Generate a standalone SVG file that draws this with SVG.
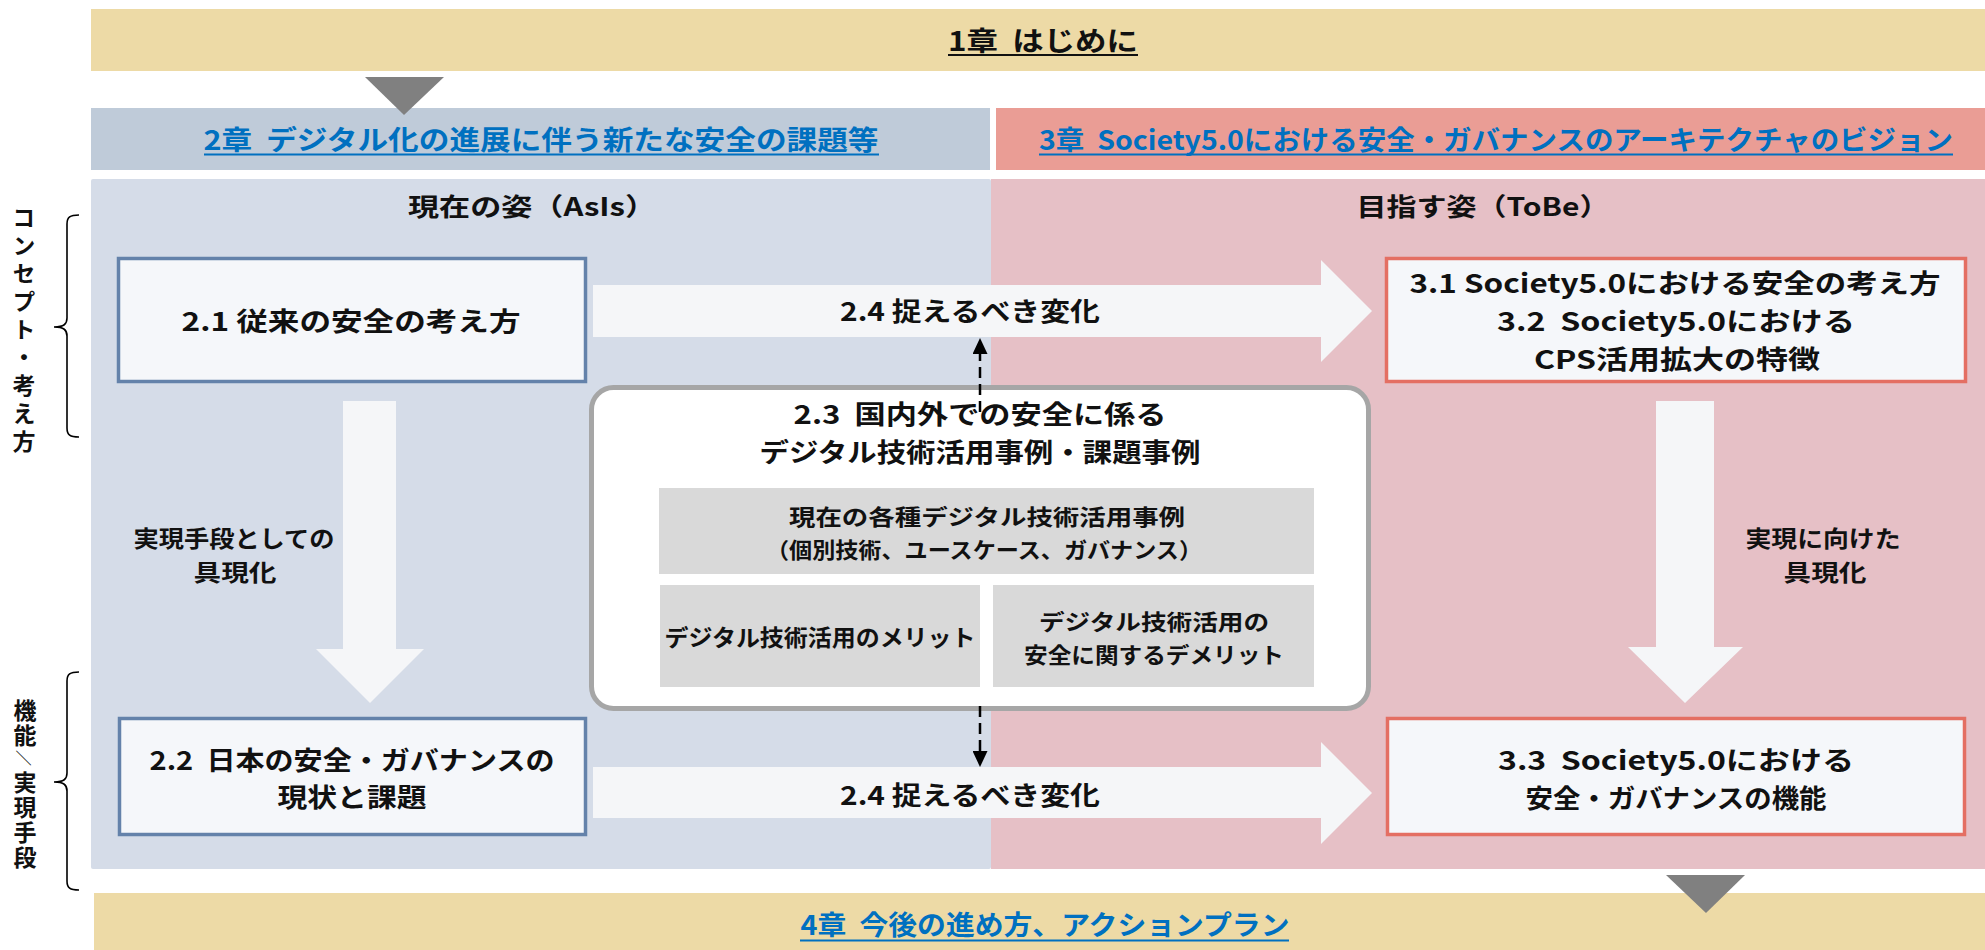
<svg xmlns="http://www.w3.org/2000/svg" width="1985" height="950" viewBox="0 0 1985 950">
<style>
.t{font-family:"Noto Sans CJK JP","Noto Sans CJK SC",sans-serif;font-weight:700;text-anchor:middle;fill:#111}
.v{font-family:"Noto Sans CJK JP","Noto Sans CJK SC",sans-serif;font-weight:700;fill:#111;font-size:23px}
.blue{fill:#0070C0}
.f27{font-size:27px}.fm{font-size:26px}.f25{font-size:25px}.f23{font-size:23px}.fs{font-size:22px}
.ul{stroke-width:2}
.box{fill:#F5F7FA;stroke-width:3.5}
.asis{stroke:#6482AA}
.tobe{stroke:#E46F63}
.blk{fill:#F5F6F8}
.grey{fill:#D9D9D9}
.tri{fill:#808080}
.dash{stroke:#000;stroke-width:2.5;stroke-dasharray:11 6;fill:none}
.brace{stroke:#000;stroke-width:1.6;fill:none}
</style>
<defs>
<marker id="ah" markerUnits="userSpaceOnUse" markerWidth="16" markerHeight="15" refX="0" refY="7.5" orient="auto" viewBox="0 0 16 15">
<path d="M0,0 L16,7.5 L0,15 z" fill="#000"/>
</marker>
</defs>
<rect width="1985" height="950" fill="#FFFFFF"/>

<!-- Chapter bars -->
<g id="ch1">
<rect x="91" y="9" width="1894" height="62" fill="#EDDAA6"/>
<text class="t f27" x="1043" y="51" textLength="190" lengthAdjust="spacingAndGlyphs">1章&#160;&#160;はじめに</text>
<line class="ul" x1="948" y1="55" x2="1138" y2="55" stroke="#111"/>
</g>
<g id="ch2">
<rect x="91" y="108" width="899" height="62" fill="#BFCBD9"/>
<text class="t f27 blue" x="541" y="150" textLength="675" lengthAdjust="spacingAndGlyphs">2章&#160;&#160;デジタル化の進展に伴う新たな安全の課題等</text>
<line class="ul" x1="204" y1="154.5" x2="879" y2="154.5" stroke="#0070C0"/>
</g>
<g id="ch3">
<rect x="996" y="108" width="989" height="62" fill="#EA9D95"/>
<text class="t f27 blue" x="1496" y="150" textLength="914" lengthAdjust="spacingAndGlyphs">3章&#160;&#160;Society5.0における安全・ガバナンスのアーキテクチャのビジョン</text>
<line class="ul" x1="1039" y1="154.5" x2="1953" y2="154.5" stroke="#0070C0"/>
</g>

<!-- Panels -->
<g id="panel-asis">
<rect x="91" y="179" width="900" height="690" rx="2" fill="#D5DCE8"/>
<text class="t f25" x="532" y="216" textLength="248" lengthAdjust="spacingAndGlyphs">現在の姿（AsIs）</text>
</g>
<g id="panel-tobe">
<rect x="991" y="179" width="994" height="690" fill="#E6C0C6"/>
<text class="t f25" x="1483" y="216" textLength="253" lengthAdjust="spacingAndGlyphs">目指す姿（ToBe）</text>
</g>

<g id="ch4">
<rect x="94" y="893" width="1891" height="57" fill="#EDDAA6"/>
<text class="t f27 blue" x="1045" y="935" textLength="489" lengthAdjust="spacingAndGlyphs">4章&#160;&#160;今後の進め方、アクションプラン</text>
<line class="ul" x1="800" y1="940.5" x2="1289" y2="940.5" stroke="#0070C0"/>
</g>

<!-- Flow triangles -->
<g id="tri-top"><polygon class="tri" points="365,77 444,77 404,115"/></g>
<g id="tri-bottom"><polygon class="tri" points="1666,875 1745,875 1706,913"/></g>

<!-- Side labels -->
<g id="label-concept">
<path class="brace" d="M79,215 C70,215 67,217 67,224 V318 C67,324 64,327 54,327 C64,327 67,330 67,336 V428 C67,435 70,437 79,437"/>
<text class="v" x="24" y="206" writing-mode="tb" style="writing-mode:vertical-rl;letter-spacing:5px">コンセプト・考え方</text>
</g>
<g id="label-function">
<path class="brace" d="M79,672 C70,672 67,674 67,681 V773 C67,779 64,782 54,782 C64,782 67,785 67,791 V881 C67,888 70,890 79,890"/>
<text class="v" x="25" y="699" writing-mode="tb" style="writing-mode:vertical-rl;letter-spacing:2px">機能</text>
<text class="t" style="font-size:16px" x="0" y="0" dominant-baseline="central" transform="translate(25,758) rotate(90)">／</text>
<text class="v" x="25" y="771" writing-mode="tb" style="writing-mode:vertical-rl;letter-spacing:2px">実現手段</text>
</g>

<!-- Connectors -->
<g id="connectors">
<g id="arrow-2-4-top">
<polygon class="blk" points="593,285 1321,285 1321,260 1372,311 1321,362 1321,337 593,337"/>
<text class="t fm" x="970" y="321" textLength="260" lengthAdjust="spacingAndGlyphs">2.4 捉えるべき変化</text>
</g>
<g id="arrow-2-4-bottom">
<polygon class="blk" points="593,767 1321,767 1321,742 1372,793 1321,844 1321,818 593,818"/>
<text class="t fm" x="970" y="805" textLength="260" lengthAdjust="spacingAndGlyphs">2.4 捉えるべき変化</text>
</g>
<g id="arrow-asis-down">
<polygon class="blk" points="343,401 396,401 396,649 424,649 370,703 316,649 343,649"/>
<text class="t f23" x="234" y="547" textLength="201" lengthAdjust="spacingAndGlyphs">実現手段としての</text>
<text class="t f23" x="235" y="581" textLength="83" lengthAdjust="spacingAndGlyphs">具現化</text>
</g>
<g id="arrow-tobe-down">
<polygon class="blk" points="1656,401 1714,401 1714,647 1743,647 1685,703 1628,647 1656,647"/>
<text class="t f23" x="1823" y="547" textLength="155" lengthAdjust="spacingAndGlyphs">実現に向けた</text>
<text class="t f23" x="1825" y="581" textLength="83" lengthAdjust="spacingAndGlyphs">具現化</text>
</g>
</g>

<!-- Nodes -->
<g id="n21">
<rect class="box asis" x="118.5" y="258.5" width="467" height="123"/>
<text class="t fm" x="351" y="331" textLength="339" lengthAdjust="spacingAndGlyphs">2.1 従来の安全の考え方</text>
</g>
<g id="n22">
<rect class="box asis" x="119.5" y="718.5" width="466" height="116"/>
<text class="t fm" x="352" y="770" textLength="405" lengthAdjust="spacingAndGlyphs">2.2&#160;&#160;日本の安全・ガバナンスの</text>
<text class="t fm" x="352" y="807" textLength="149" lengthAdjust="spacingAndGlyphs">現状と課題</text>
</g>
<g id="n31">
<rect class="box tobe" x="1386.5" y="258.5" width="579" height="123"/>
<text class="t fm" x="1675" y="293" textLength="531" lengthAdjust="spacingAndGlyphs">3.1 Society5.0における安全の考え方</text>
<text class="t fm" x="1676" y="331" textLength="358" lengthAdjust="spacingAndGlyphs">3.2&#160;&#160;Society5.0における</text>
<text class="t fm" x="1677" y="369" textLength="286" lengthAdjust="spacingAndGlyphs">CPS活用拡大の特徴</text>
</g>
<g id="n33">
<rect class="box tobe" x="1387.5" y="718.5" width="577" height="116"/>
<text class="t fm" x="1676" y="770" textLength="356" lengthAdjust="spacingAndGlyphs">3.3&#160;&#160;Society5.0における</text>
<text class="t fm" x="1676" y="808" textLength="301" lengthAdjust="spacingAndGlyphs">安全・ガバナンスの機能</text>
</g>
<g id="n23">
<rect x="591.5" y="387.5" width="777" height="321" rx="22" fill="#FFFFFF" stroke="#A6A6A6" stroke-width="5"/>
<text class="t fm" x="980" y="424" textLength="373" lengthAdjust="spacingAndGlyphs">2.3&#160;&#160;国内外での安全に係る</text>
<text class="t fm" x="980" y="462" textLength="441" lengthAdjust="spacingAndGlyphs">デジタル技術活用事例・課題事例</text>
<g id="n23-cases">
<rect class="grey" x="659" y="488" width="655" height="86"/>
<text class="t fs" x="987" y="525" textLength="396" lengthAdjust="spacingAndGlyphs">現在の各種デジタル技術活用事例</text>
<text class="t fs" x="984" y="558" textLength="436" lengthAdjust="spacingAndGlyphs">（個別技術、ユースケース、ガバナンス）</text>
</g>
<g id="n23-merit">
<rect class="grey" x="660" y="585" width="320" height="102"/>
<text class="t f23" x="820" y="646" textLength="311" lengthAdjust="spacingAndGlyphs">デジタル技術活用のメリット</text>
</g>
<g id="n23-demerit">
<rect class="grey" x="993" y="585" width="321" height="102"/>
<text class="t fs" x="1154" y="630" textLength="230" lengthAdjust="spacingAndGlyphs">デジタル技術活用の</text>
<text class="t fs" x="1154" y="663" textLength="260" lengthAdjust="spacingAndGlyphs">安全に関するデメリット</text>
</g>
</g>

<g id="dashed-connectors">
<line class="dash" x1="980" y1="412" x2="980" y2="354" marker-end="url(#ah)"/>
<line class="dash" x1="980" y1="706" x2="980" y2="751" marker-end="url(#ah)"/>
</g>
</svg>
